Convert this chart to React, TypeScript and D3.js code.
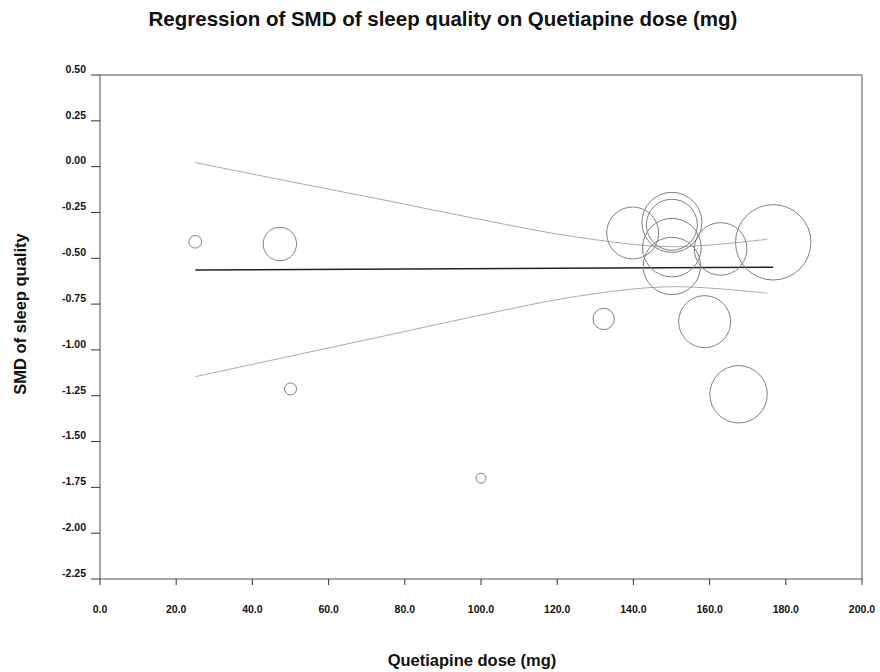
import React, { useRef, useEffect } from "react";
import * as d3 from "d3";

// study points: dose (mg), SMD, weight
const doses = [25, 47.2, 50, 100, 132.2, 158.7, 167.6, 139.8, 150.1, 150.1, 150.1, 150.1, 162.9, 176.7];
const smds = [-0.41, -0.422, -1.213, -1.7, -0.831, -0.846, -1.242, -0.362, -0.304, -0.317, -0.442, -0.542, -0.449, -0.413];
const weights = [4.0, 27.9, 3.6, 2.5, 11.4, 67.6, 82.4, 67.6, 90, 65, 85.8, 82.4, 69.2, 142.1];

// regression line ends
const fitX = [25, 176.7];
const fitY = [-0.564, -0.549];

// confidence band
const bandX = [25, 50, 75, 100, 125, 150, 175.2];
const bandUpper = [0.022, -0.082, -0.184, -0.289, -0.384, -0.437, -0.396];
const bandLower = [-1.146, -1.034, -0.922, -0.81, -0.708, -0.655, -0.691];

const xTicks = [0, 20, 40, 60, 80, 100, 120, 140, 160, 180, 200];
const yTicks = [0.5, 0.25, 0, -0.25, -0.5, -0.75, -1, -1.25, -1.5, -1.75, -2, -2.25];

const App = () => {
  const svgRef = useRef(null);

  useEffect(() => {
    const svg = d3.select(svgRef.current);
    svg.selectAll("*").remove();
    const width = 880;
    const height = 672;
    const left = 100, right = 862, top = 75, bottom = 579;
    const font = "Arial, 'Liberation Sans', sans-serif";
    const fmt = (f) => (v) => d3.format(f)(v).replace("\u2212", "-");

    svg.attr("width", width).attr("height", height);

    const x = d3.scaleLinear().domain([0, 200]).range([left, right]);
    const y = d3.scaleLinear().domain([-2.25, 0.5]).range([bottom, top]);
    const r = d3.scaleSqrt().domain([0, d3.max(weights)]).range([0, 37.7]);

    // title
    svg.append("text")
      .attr("x", 443).attr("y", 26)
      .attr("text-anchor", "middle")
      .attr("font-family", font).attr("font-weight", "bold").attr("font-size", 20.5)
      .attr("fill", "#111")
      .text("Regression of SMD of sleep quality on Quetiapine dose (mg)");

    // frame
    svg.append("rect")
      .attr("x", left).attr("y", top)
      .attr("width", right - left).attr("height", bottom - top)
      .attr("fill", "none").attr("stroke", "#8a8a8a").attr("stroke-width", 1.5);

    // y ticks
    const yAxis = svg.append("g");
    yTicks.forEach((t) => {
      yAxis.append("line")
        .attr("x1", left - 9).attr("x2", left)
        .attr("y1", y(t)).attr("y2", y(t))
        .attr("stroke", "#333").attr("stroke-width", 1);
      yAxis.append("text")
        .attr("x", 86).attr("y", y(t) - 5)
        .attr("text-anchor", "end").attr("dominant-baseline", "middle")
        .attr("font-family", font).attr("font-weight", "bold").attr("font-size", 10.5)
        .attr("fill", "#111")
        .text(fmt(".2f")(t));
    });

    // x ticks
    const xAxis = svg.append("g");
    xTicks.forEach((t) => {
      xAxis.append("line")
        .attr("x1", x(t)).attr("x2", x(t))
        .attr("y1", bottom).attr("y2", bottom + 6)
        .attr("stroke", "#333").attr("stroke-width", 1);
      xAxis.append("text")
        .attr("x", x(t)).attr("y", 610)
        .attr("text-anchor", "middle").attr("dominant-baseline", "middle")
        .attr("font-family", font).attr("font-weight", "bold").attr("font-size", 10.5)
        .attr("fill", "#111")
        .text(fmt(".1f")(t));
    });

    // axis titles
    svg.append("text")
      .attr("x", 472).attr("y", 666)
      .attr("text-anchor", "middle")
      .attr("font-family", font).attr("font-weight", "bold").attr("font-size", 16.5)
      .attr("fill", "#111")
      .text("Quetiapine dose (mg)");
    svg.append("text")
      .attr("transform", "translate(26, 314) rotate(-90)")
      .attr("text-anchor", "middle")
      .attr("font-family", font).attr("font-weight", "bold").attr("font-size", 16.5)
      .attr("fill", "#111")
      .text("SMD of sleep quality");

    // confidence band
    const band = d3.line().curve(d3.curveCatmullRom)
      .x((d) => x(d[0])).y((d) => y(d[1]));
    [bandUpper, bandLower].forEach((vals) => {
      svg.append("path")
        .attr("d", band(bandX.map((bx, i) => [bx, vals[i]])))
        .attr("fill", "none").attr("stroke", "#aaaaaa").attr("stroke-width", 1);
    });

    // regression line
    svg.append("path")
      .attr("d", band(fitX.map((fx, i) => [fx, fitY[i]])))
      .attr("fill", "none").attr("stroke", "#222").attr("stroke-width", 1.6);

    // bubbles
    svg.selectAll(".pt")
      .data(doses.map((d, i) => ({ d, s: smds[i], w: weights[i] })))
      .join("circle")
      .attr("class", "pt")
      .attr("cx", (p) => x(p.d))
      .attr("cy", (p) => y(p.s))
      .attr("r", (p) => r(p.w))
      .attr("fill", "none")
      .attr("stroke", "#808080")
      .attr("stroke-width", 1);
  }, []);

  return <svg ref={svgRef} style={{ position: "absolute", left: 0, top: 0 }}></svg>;
};

export default App;
